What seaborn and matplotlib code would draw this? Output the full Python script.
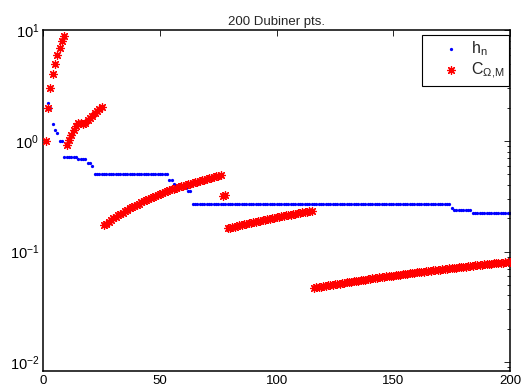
import numpy as np
import pandas as pd
import matplotlib
matplotlib.use("Agg")
import matplotlib.pyplot as plt
import seaborn as sns

# ---- data ----
n = list(range(1, 201))

# h_n: step levels and how many consecutive n share each level
h_levels = [1.0, 2.23, 2.0, 1.43, 1.25, 1.18, 1.0, 0.71, 0.69, 0.63, 0.59, 0.50,
            0.44, 0.41, 0.40, 0.39, 0.375, 0.35, 0.268, 0.245, 0.239, 0.221]
h_counts = [1, 1, 1, 1, 1, 1, 2, 6, 4, 2, 1, 32,
            2, 1, 2, 2, 1, 2, 111, 1, 8, 17]

c_seg1 = [1, 2, 3, 4, 5, 6, 7, 8, 9]
c_seg2 = [0.92, 1.03, 1.13, 1.25, 1.37, 1.45, 1.45, 1.42, 1.47, 1.55,
          1.62, 1.70, 1.78, 1.86, 1.94, 2.02]
c_seg3 = [0.172, 0.179, 0.185, 0.192, 0.199, 0.205, 0.212, 0.218, 0.225, 0.232,
          0.238, 0.245, 0.252, 0.258, 0.265, 0.271, 0.278, 0.285, 0.291, 0.298,
          0.305, 0.311, 0.318, 0.324, 0.331, 0.338, 0.344, 0.351, 0.357, 0.364,
          0.370, 0.376, 0.382, 0.388, 0.394, 0.400, 0.406, 0.412, 0.418, 0.424,
          0.430, 0.436, 0.442, 0.448, 0.454, 0.460, 0.466, 0.472, 0.478, 0.484,
          0.490]
c_seg4 = [0.318, 0.322]
c_seg5 = [0.162, 0.164, 0.166, 0.168, 0.170, 0.172, 0.174, 0.176, 0.178, 0.180,
          0.182, 0.184, 0.186, 0.188, 0.190, 0.192, 0.194, 0.196, 0.198, 0.200,
          0.202, 0.204, 0.206, 0.208, 0.210, 0.212, 0.214, 0.216, 0.218, 0.220,
          0.222, 0.224, 0.226, 0.228, 0.230, 0.232, 0.234]
c_seg6 = [0.0469, 0.0473, 0.0477, 0.0481, 0.0485, 0.0489, 0.0493, 0.0497, 0.0501, 0.0505,
          0.0509, 0.0513, 0.0517, 0.0521, 0.0525, 0.0529, 0.0533, 0.0537, 0.0541, 0.0545,
          0.0549, 0.0553, 0.0557, 0.0561, 0.0566, 0.0570, 0.0574, 0.0578, 0.0582, 0.0586,
          0.0590, 0.0594, 0.0598, 0.0602, 0.0606, 0.0610, 0.0614, 0.0618, 0.0622, 0.0626,
          0.0630, 0.0634, 0.0638, 0.0642, 0.0646, 0.0650, 0.0654, 0.0658, 0.0662, 0.0666,
          0.0670, 0.0674, 0.0678, 0.0682, 0.0687, 0.0691, 0.0695, 0.0699, 0.0703, 0.0707,
          0.0711, 0.0715, 0.0719, 0.0723, 0.0727, 0.0731, 0.0735, 0.0739, 0.0743, 0.0747,
          0.0751, 0.0755, 0.0759, 0.0763, 0.0767, 0.0771, 0.0775, 0.0779, 0.0783, 0.0787,
          0.0791, 0.0795, 0.0799, 0.0803, 0.0807]

title = "200 Dubiner pts."
x_ticks = [0, 50, 100, 150, 200]

h_n = np.repeat(h_levels, h_counts)
c_om = np.concatenate([c_seg1, c_seg2, c_seg3, c_seg4, c_seg5, c_seg6])
df = pd.DataFrame({"n": n, "h": h_n, "C": c_om})

# ---- style ----
sns.set_style("white")
plt.rcParams["font.family"] = ["Liberation Sans", "DejaVu Sans"]
plt.rcParams["mathtext.default"] = "regular"

fig = plt.figure(figsize=(5.25, 3.86), dpi=100)
ax = fig.add_axes([0.0825, 0.039, 0.889, 0.882])

sns.scatterplot(data=df, x="n", y="h", ax=ax, marker="o", s=5.5, color="#0000ff",
                linewidth=0, label=r"$h_n$", zorder=2)
sns.scatterplot(data=df, x="n", y="C", ax=ax, marker=(8, 2, 0), s=32, color="#ff0000",
                linewidth=0.9, label=r"$C_{\Omega{,}M}$", zorder=3)

ax.set_yscale("log")
ax.set_xlim(0, 200)
ax.set_ylim(0.0083, 1e1)
ax.set_xticks(x_ticks)
ax.set_xlabel("")
ax.set_ylabel("")
ax.set_title(title, fontsize=9.5, pad=4)

for sp in ax.spines.values():
    sp.set_visible(True)
    sp.set_color("black")
    sp.set_linewidth(1.1)
ax.tick_params(which="both", direction="in", top=True, right=True, colors="black",
               width=0.6)
ax.tick_params(axis="x", which="major", labelsize=9.5)
ax.tick_params(axis="y", which="major", labelsize=10.5)
ax.tick_params(which="major", length=4, pad=3)
ax.tick_params(which="minor", length=2.2)

leg = ax.legend(loc="upper right", bbox_to_anchor=(0.998, 0.988), fontsize=11.5,
                frameon=True, fancybox=False, framealpha=1, edgecolor="black",
                borderpad=0.3, handlelength=3.0, handletextpad=-0.24,
                labelspacing=0.15, borderaxespad=0.0, markerscale=1.0)
leg.get_frame().set_linewidth(0.8)

fig.savefig("out.png", dpi=100)
